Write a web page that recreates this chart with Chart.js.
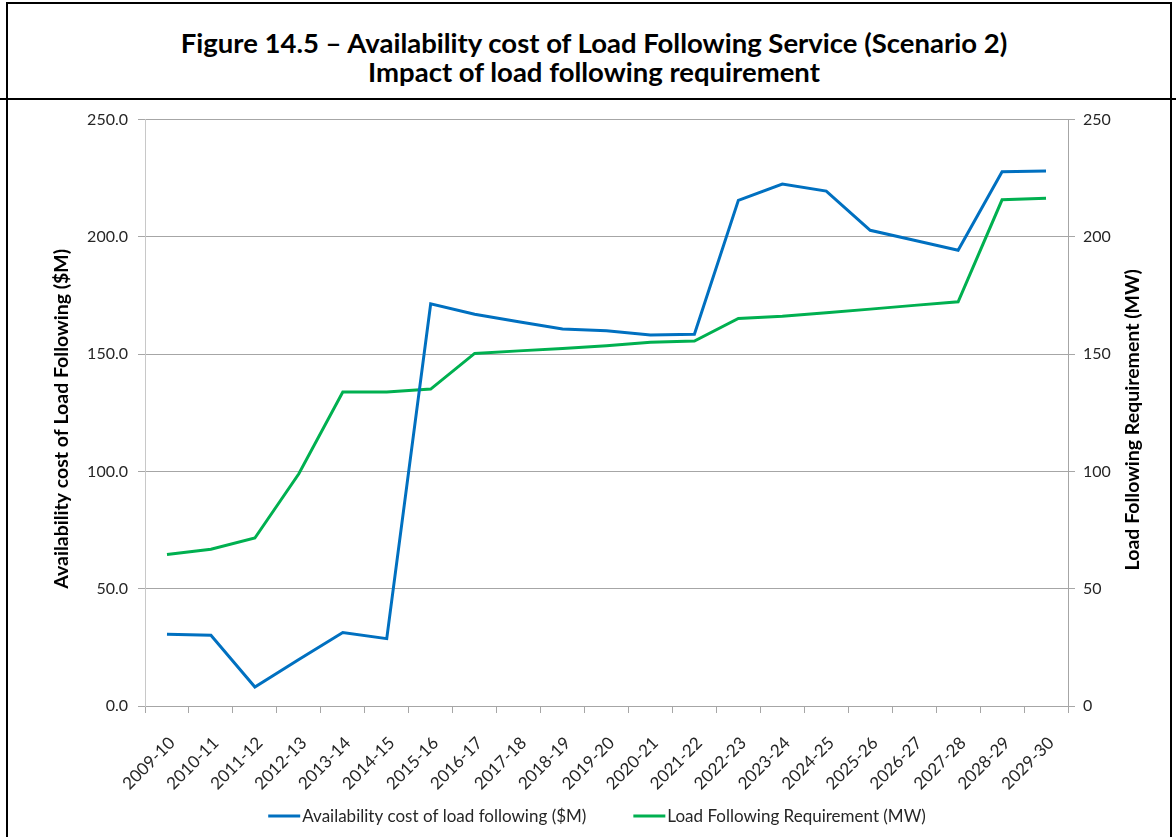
<!DOCTYPE html>
<html>
<head>
<meta charset="utf-8">
<script src="https://cdn.jsdelivr.net/npm/chart.js@4/dist/chart.umd.min.js"></script>
<style>
  html, body { margin: 0; padding: 0; background: #fff; }
  #frame { position: relative; width: 1176px; height: 837px; overflow: hidden; background: #fff; }
  #border { position: absolute; left: 6px; top: 2px; width: 1166px; height: 850px; border: 2px solid #000; box-sizing: border-box; }
  #titlebox { position: absolute; left: 0; top: 2px; width: 1176px; height: 98px; border-bottom: 2px solid #000; box-sizing: border-box;
              padding: 13px 0 0 12px;
              display: flex; flex-direction: column; align-items: center; justify-content: center;
              font-family: Lato, "Open Sans", sans-serif; font-weight: bold; font-size: 27.5px; line-height: 29px; color: #000; }
  #chart { position: absolute; left: 0; top: 100px; }
</style>
</head>
<body>
<div id="frame">
  <div id="titlebox">
    <div>Figure 14.5 – Availability cost of Load Following Service (Scenario 2)</div>
    <div>Impact of load following requirement</div>
  </div>
  <div id="border"></div>
  <canvas id="chart" width="1176" height="737"></canvas>
</div>
<script>
// Financial years shown along the horizontal axis
const years = ['2009-10', '2010-11', '2011-12', '2012-13', '2013-14', '2014-15', '2015-16',
  '2016-17', '2017-18', '2018-19', '2019-20', '2020-21', '2021-22', '2022-23', '2023-24',
  '2024-25', '2025-26', '2026-27', '2027-28', '2028-29', '2029-30'];

// Availability cost of load following ($M), left axis
const availabilityCost = [30.6, 30.2, 8.1, 19.8, 31.3, 28.7, 171.5, 167.0, 163.8, 160.7,
  160.0, 158.2, 158.5, 215.6, 222.5, 219.5, 202.8, 198.6, 194.3, 227.8, 228.1];

// Load following requirement (MW), right axis
const lfRequirement = [64.6, 66.8, 71.6, 99.0, 133.9, 133.9, 135.1, 150.3, 151.4, 152.4,
  153.6, 155.1, 155.6, 165.2, 166.2, 167.7, 169.2, 170.8, 172.3, 215.8, 216.5];

// Axis tick values and titles
const leftTicks = [0, 50, 100, 150, 200, 250];
const rightTicks = [0, 50, 100, 150, 200, 250];
const leftTitle = 'Availability cost of Load Following ($M)';
const rightTitle = 'Load Following Requirement (MW)';

const FONT = 'Lato, "Open Sans", sans-serif';
const TEXT = '#262626';

// Rotated axis titles, both reading bottom-to-top
const axisTitles = {
  id: 'axisTitles',
  afterDraw(chart) {
    const { ctx, chartArea } = chart;
    const cy = (chartArea.top + chartArea.bottom) / 2;
    ctx.save();
    ctx.font = 'bold 19.5px ' + FONT;
    ctx.fillStyle = '#000';
    ctx.textAlign = 'center';
    ctx.textBaseline = 'middle';
    [[62, cy + 6, leftTitle], [1133, cy + 7, rightTitle]].forEach(([x, y, t]) => {
      ctx.save();
      ctx.translate(x, y);
      ctx.rotate(-Math.PI / 2);
      ctx.fillText(t, 0, 0);
      ctx.restore();
    });
    ctx.restore();
  }
};

// Legend row under the axis: a short line sample followed by the series name
const lineLegend = {
  id: 'lineLegend',
  afterDraw(chart) {
    const { ctx } = chart;
    const sample = 32, gap = 2, between = 47, y = 716, centre = 597;
    ctx.save();
    ctx.font = '17px ' + FONT;
    ctx.textBaseline = 'middle';
    ctx.textAlign = 'left';
    const items = chart.data.datasets.map(ds => ({ ds, w: ctx.measureText(ds.label).width }));
    const total = items.reduce((s, it) => s + sample + gap + it.w, 0) + between * (items.length - 1);
    let x = centre - total / 2;
    items.forEach(({ ds, w }) => {
      ctx.strokeStyle = ds.borderColor;
      ctx.lineWidth = ds.borderWidth;
      ctx.beginPath();
      ctx.moveTo(x, y);
      ctx.lineTo(x + sample, y);
      ctx.stroke();
      ctx.fillStyle = TEXT;
      ctx.fillText(ds.label, x + sample + gap, y + 1);
      x += sample + gap + w + between;
    });
    ctx.restore();
  }
};

new Chart(document.getElementById('chart'), {
  type: 'line',
  data: {
    labels: years,
    datasets: [
      {
        label: 'Availability cost of load following ($M)',
        data: availabilityCost,
        borderColor: '#0070C0',
        backgroundColor: '#0070C0',
        borderWidth: 3,
        pointRadius: 0,
        tension: 0,
        yAxisID: 'y'
      },
      {
        label: 'Load Following Requirement (MW)',
        data: lfRequirement,
        borderColor: '#00B050',
        backgroundColor: '#00B050',
        borderWidth: 3,
        pointRadius: 0,
        tension: 0,
        yAxisID: 'y1'
      }
    ]
  },
  options: {
    responsive: false,
    devicePixelRatio: 1,
    animation: false,
    layout: { padding: { top: 18, left: 0, right: 0, bottom: 0 } },
    plugins: {
      legend: { display: false },
      tooltip: { enabled: false },
      title: { display: false }
    },
    scales: {
      x: {
        offset: true,
        grid: { offset: true, drawOnChartArea: false, drawTicks: true, tickLength: 7, color: '#a6a6a6' },
        border: { color: '#a6a6a6', width: 1 },
        ticks: {
          minRotation: 45, maxRotation: 45, autoSkip: false,
          color: TEXT, font: { family: FONT, size: 17 }, padding: 20, labelOffset: 5
        },
        afterFit(scale) { scale.height = 131; }
      },
      y: {
        position: 'left',
        min: 0, max: 250,
        afterBuildTicks(scale) { scale.ticks = leftTicks.map(v => ({ value: v })); },
        grid: { color: '#a6a6a6', tickLength: 7 },
        border: { color: '#c8c8c8', width: 1 },
        ticks: {
          color: TEXT, font: { family: FONT, size: 16 }, padding: 10,
          callback: v => v.toFixed(1)
        },
        afterFit(scale) { scale.width = 145; }
      },
      y1: {
        position: 'right',
        min: 0, max: 250,
        afterBuildTicks(scale) { scale.ticks = rightTicks.map(v => ({ value: v })); },
        grid: { drawOnChartArea: false, color: '#a6a6a6', tickLength: 7 },
        border: { color: '#a6a6a6', width: 1 },
        ticks: {
          color: TEXT, font: { family: FONT, size: 16 }, padding: 8,
          callback: v => String(v)
        },
        afterFit(scale) { scale.width = 108; }
      }
    }
  },
  plugins: [axisTitles, lineLegend]
});
</script>
</body>
</html>
